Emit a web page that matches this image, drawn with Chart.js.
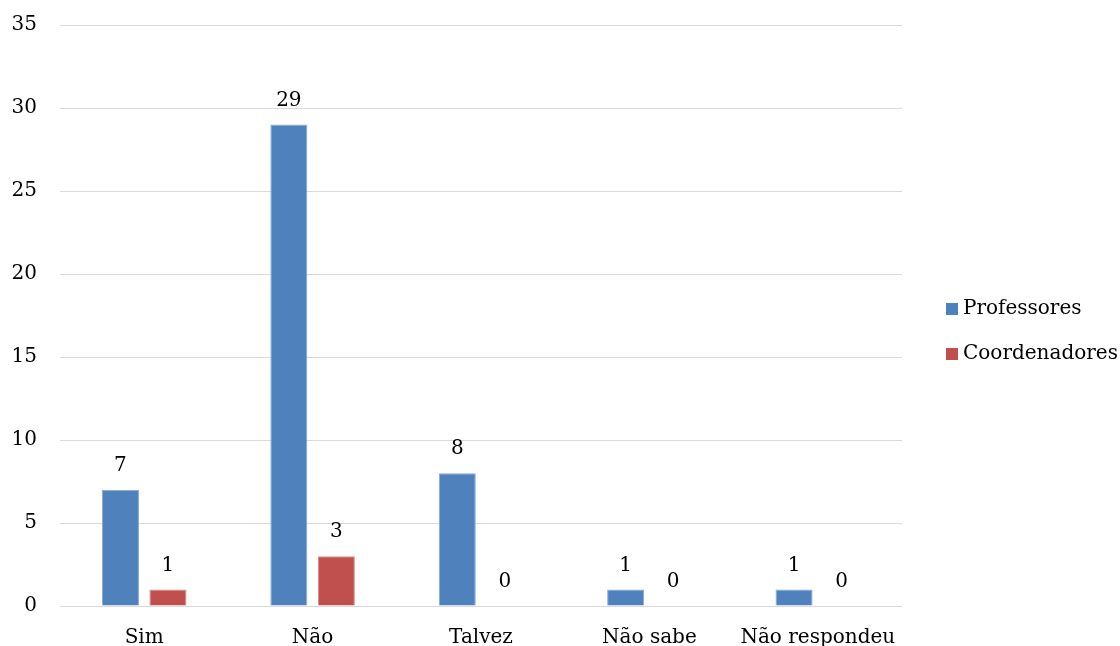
<!DOCTYPE html>
<html>
<head>
<meta charset="utf-8">
<script src="https://cdn.jsdelivr.net/npm/chart.js@4"></script>
<style>
  html, body { margin: 0; padding: 0; background: #fff; }
  #wrap { width: 1120px; height: 646px; position: relative; }
</style>
</head>
<body>
<div id="wrap"><canvas id="chart"></canvas></div>
<script>
var categories = ['Sim', 'Não', 'Talvez', 'Não sabe', 'Não respondeu'];
var professores = [7, 29, 8, 1, 1];
var coordenadores = [1, 3, 0, 0, 0];
var yTicks = [0, 5, 10, 15, 20, 25, 30, 35];

var FONT = '"DejaVu Serif", serif';
var FONT_SIZE = 20;

// value labels above each bar
var valueLabels = {
    id: 'valueLabels',
    afterDatasetsDraw: function(chart) {
        var ctx = chart.ctx;
        ctx.save();
        ctx.font = FONT_SIZE + 'px ' + FONT;
        ctx.fillStyle = '#000';
        ctx.textAlign = 'center';
        ctx.textBaseline = 'middle';
        chart.data.datasets.forEach(function(ds, i) {
            chart.getDatasetMeta(i).data.forEach(function(bar, j) {
                ctx.fillText(String(ds.data[j]), bar.x, bar.y - 24);
            });
        });
        ctx.restore();
    }
};

// legend at right, drawn by hand so the plot width stays fixed
var sideLegend = {
    id: 'sideLegend',
    afterDraw: function(chart) {
        var ctx = chart.ctx;
        ctx.save();
        ctx.font = FONT_SIZE + 'px ' + FONT;
        ctx.textBaseline = 'middle';
        ctx.textAlign = 'left';
        chart.data.datasets.forEach(function(ds, i) {
            var y = 309 + i * 45;
            ctx.fillStyle = ds.backgroundColor;
            ctx.fillRect(946, y - 6, 12, 12);
            ctx.fillStyle = '#000';
            ctx.fillText(ds.label, 963, y);
        });
        ctx.restore();
    }
};

new Chart(document.getElementById('chart'), {
    type: 'bar',
    data: {
        labels: categories,
        datasets: [{
            label: 'Professores',
            data: professores,
            backgroundColor: '#4f81bd',
            borderColor: '#8aaad6',
            borderWidth: 1,
            barPercentage: 0.78,
            categoryPercentage: 0.564
        }, {
            label: 'Coordenadores',
            data: coordenadores,
            backgroundColor: '#c0504d',
            borderColor: '#d98a88',
            borderWidth: 1,
            barPercentage: 0.78,
            categoryPercentage: 0.564
        }]
    },
    options: {
        responsive: true,
        maintainAspectRatio: false,
        animation: false,
        layout: { padding: { top: 25, right: 218, left: 0, bottom: 0 } },
        plugins: {
            legend: { display: false },
            tooltip: { enabled: false }
        },
        scales: {
            x: {
                grid: { display: false, drawTicks: false },
                border: { display: false },
                ticks: {
                    padding: 20,
                    color: '#000',
                    font: { family: FONT, size: FONT_SIZE }
                },
                afterFit: function(scale) { scale.height = 40; }
            },
            y: {
                min: 0,
                max: 35,
                afterBuildTicks: function(scale) {
                    scale.ticks = yTicks.map(function(v) { return { value: v }; });
                },
                grid: { color: '#d9d9d9', lineWidth: 1, drawTicks: false },
                border: { display: false },
                ticks: {
                    padding: 23,
                    color: '#000',
                    font: { family: FONT, size: FONT_SIZE }
                },
                afterFit: function(scale) {
                    scale.width = 60;
                    scale.paddingTop = 0;
                    scale.paddingBottom = 0;
                }
            }
        }
    },
    plugins: [valueLabels, sideLegend]
});
</script>
</body>
</html>
